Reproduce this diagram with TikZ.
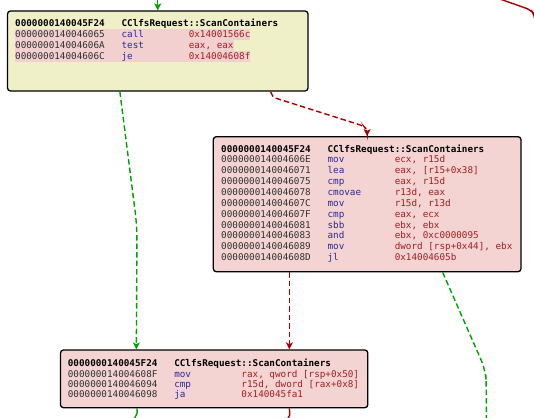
\documentclass[tikz,border=0pt]{standalone}
\usepackage{fontspec}
\usetikzlibrary{arrows.meta}
\newfontfamily\codefont{DejaVu Sans Mono}
\definecolor{yfill}{HTML}{F0F0C8}
\definecolor{pfill}{HTML}{F4D3D3}
\definecolor{hl}{HTML}{F2D0D0}
\definecolor{mn}{HTML}{2A2A96}
\definecolor{op}{HTML}{A02020}
\definecolor{ad}{HTML}{303030}
\definecolor{eg}{HTML}{00A000}
\definecolor{er}{HTML}{A80000}
\newlength\cw
\newcommand\asmrow[3]{\settowidth{\cw}{0}\makebox[19\cw][l]{\color{ad}#1}\makebox[12\cw][l]{\color{mn}#2}{\color{op}#3}}
\newcommand\asmhead[2]{\settowidth{\cw}{0}\textbf{\makebox[19\cw][l]{#1}#2}}
\begin{document}
\begin{tikzpicture}[x=1pt,y=-1pt,
  blk/.style={draw=black, line width=1.3pt, rounded corners=3pt, inner sep=0pt},
  ln/.style={anchor=base west, inner sep=0pt, font=\codefont\fontsize{9.3pt}{10.8pt}\selectfont, text height=8.2pt, text depth=2.45pt},
  hlrow/.style={ln, fill=hl},
  edg/.style={line width=1.4pt},
  gre/.style={edg, draw=eg},
  rede/.style={edg, draw=er},
  dsh/.style={dash pattern=on 5.5pt off 3pt},
  tip/.style={-{Stealth[length=7pt,width=7pt,inset=1.8pt]}}
]
\useasboundingbox (0,0) rectangle (534,417);

% blocks
\node[blk, fill=yfill, minimum width=300.5pt, minimum height=80pt] (b1) at (157.75,51) {};
\node[blk, fill=pfill, minimum width=307.7pt, minimum height=135pt] (b2) at (367.15,204.2) {};
\node[blk, fill=pfill, minimum width=307.3pt, minimum height=57.7pt] (b3) at (214.15,378.85) {};

% block 1 text
\node[ln] (h1) at (15,26.7) {\asmhead{0000000140045F24}{CClfsRequest::ScanContainers}};
\node[hlrow] (r11) at (15,37.7) {\asmrow{0000000140046065}{call}{0x14001566c}};
\node[hlrow] (r12) at (15,48.4) {\asmrow{000000014004606A}{test}{eax, eax}};
\node[hlrow] (r13) at (15,59.1) {\asmrow{000000014004606C}{je}{0x14004608f}};

% block 2 text
\node[ln] (h2) at (221,152) {\asmhead{0000000140045F24}{CClfsRequest::ScanContainers}};
\node[ln] (r21) at (221,162.87) {\asmrow{000000014004606E}{mov}{ecx, r15d}};
\node[ln] (r22) at (221,173.74) {\asmrow{0000000140046071}{lea}{eax, [r15+0x38]}};
\node[ln] (r23) at (221,184.61) {\asmrow{0000000140046075}{cmp}{eax, r15d}};
\node[ln] (r24) at (221,195.48) {\asmrow{0000000140046078}{cmovae}{r13d, eax}};
\node[ln] (r25) at (221,206.35) {\asmrow{000000014004607C}{mov}{r15d, r13d}};
\node[ln] (r26) at (221,217.22) {\asmrow{000000014004607F}{cmp}{eax, ecx}};
\node[ln] (r27) at (221,228.09) {\asmrow{0000000140046081}{sbb}{ebx, ebx}};
\node[ln] (r28) at (221,238.96) {\asmrow{0000000140046083}{and}{ebx, 0xc0000095}};
\node[ln] (r29) at (221,249.83) {\asmrow{0000000140046089}{mov}{dword [rsp+0x44], ebx}};
\node[ln] (r2a) at (221,260.7) {\asmrow{000000014004608D}{jl}{0x14004605b}};

% block 3 text
\node[ln] (h3) at (67.7,366.7) {\asmhead{0000000140045F24}{CClfsRequest::ScanContainers}};
\node[ln] (r31) at (67.7,377) {\asmrow{000000014004608F}{mov}{rax, qword [rsp+0x50]}};
\node[ln] (r32) at (67.7,387.2) {\asmrow{0000000140046094}{cmp}{r15d, dword [rax+0x8]}};
\node[ln] (r33) at (67.7,397.4) {\asmrow{0000000140046098}{ja}{0x140045fa1}};

% free ends
\coordinate (tin) at (157.75,-2);
\coordinate (gout) at (486.3,419);
\coordinate (rinA) at (497,-2);
\coordinate (rinB) at (535,20);
\coordinate (g3out) at (134,419);
\coordinate (r3out) at (287.5,419);

% connectors
\draw[gre, tip] (tin) -- (b1.north);
\draw[gre, dsh, tip, rounded corners=14pt] ([xshift=113pt]b1.south west) -- (137,226) -- ([xshift=76.5pt]b3.north west);
\draw[rede, dsh, tip, rounded corners=4pt] ([xshift=264pt]b1.south west) -- (272,97) -- (363.5,126) -- (367.15,130) -- (b2.north);
\draw[rede, dsh, tip] ([xshift=76.7pt]b2.south west) -- ([xshift=229.5pt]b3.north west);
\draw[gre, dsh, rounded corners=10pt] ([xshift=230pt]b2.south west) -- (485.5,370) -- (486.3,385) -- (gout);
\draw[rede, rounded corners=5pt] (rinA) -- (531,10) -- (534,14) -- (rinB);
\draw[gre] ([xshift=77pt]b3.south west) .. controls (137.5,413) .. (g3out);
\draw[rede] ([xshift=229.5pt]b3.south west) .. controls (290,416) .. (r3out);
\end{tikzpicture}
\end{document}
